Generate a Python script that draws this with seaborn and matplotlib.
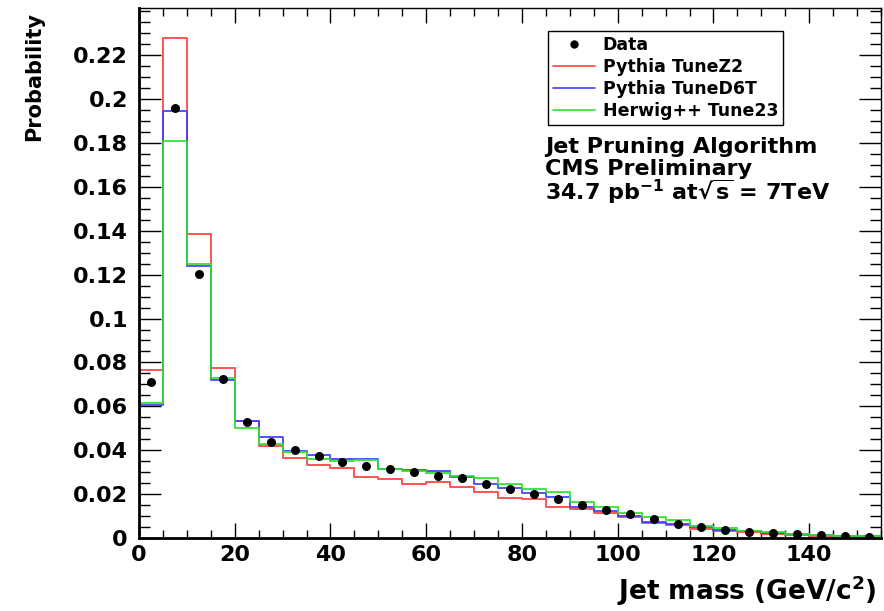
import numpy as np
import pandas as pd
import matplotlib
matplotlib.use("Agg")
import matplotlib.pyplot as plt
import seaborn as sns
from matplotlib.lines import Line2D
from matplotlib.ticker import MultipleLocator, FixedLocator, FuncFormatter

# ---- data ----
bin_edges = list(range(0, 160, 5))  # 0..155, width 5 GeV
data_vals = [0.0711, 0.1959, 0.1203, 0.0724, 0.0528, 0.0437, 0.0401, 0.0374,
             0.0346, 0.0328, 0.0314, 0.0301, 0.0282, 0.0273, 0.0246, 0.0223,
             0.0200, 0.0178, 0.0150, 0.0128, 0.0109, 0.0087, 0.0064, 0.0050,
             0.0036, 0.0027, 0.0023, 0.0018, 0.0014, 0.0009, 0.0005]
pythia_z2 = [0.0765, 0.2278, 0.1385, 0.0774, 0.0533, 0.0419, 0.0364, 0.0333,
             0.0319, 0.0278, 0.0269, 0.0246, 0.0255, 0.0232, 0.0210, 0.0182,
             0.0178, 0.0141, 0.0132, 0.0114, 0.0096, 0.0068, 0.0059, 0.0041,
             0.0032, 0.0027, 0.0018, 0.0014, 0.0011, 0.0009, 0.0007]
pythia_d6t = [0.0606, 0.1945, 0.1239, 0.0720, 0.0533, 0.0460, 0.0396, 0.0378,
              0.0360, 0.0360, 0.0314, 0.0310, 0.0305, 0.0278, 0.0246, 0.0228,
              0.0205, 0.0187, 0.0141, 0.0123, 0.0100, 0.0073, 0.0064, 0.0050,
              0.0036, 0.0032, 0.0023, 0.0018, 0.0014, 0.0011, 0.0009]
herwig_23 = [0.0615, 0.1809, 0.1248, 0.0729, 0.0501, 0.0428, 0.0392, 0.0360,
             0.0351, 0.0355, 0.0314, 0.0305, 0.0296, 0.0282, 0.0273, 0.0246,
             0.0223, 0.0210, 0.0164, 0.0141, 0.0114, 0.0096, 0.0082, 0.0055,
             0.0046, 0.0032, 0.0027, 0.0018, 0.0014, 0.0011, 0.0009]
series_labels = ["Pythia TuneZ2", "Pythia TuneD6T", "Herwig++ Tune23"]
x_ticks = [0, 20, 40, 60, 80, 100, 120, 140]
y_ticks = [0, 0.02, 0.04, 0.06, 0.08, 0.1, 0.12, 0.14, 0.16, 0.18, 0.2, 0.22]

# ---- style ----
sns.set_theme(style="ticks")
plt.rcParams["font.family"] = ["DejaVu Sans"]
plt.rcParams["font.weight"] = "bold"
plt.rcParams["mathtext.default"] = "bf"
plt.rcParams["text.color"] = "black"
plt.rcParams["axes.labelcolor"] = "black"
plt.rcParams["xtick.color"] = "black"
plt.rcParams["ytick.color"] = "black"
plt.rcParams["xtick.labelcolor"] = "black"
plt.rcParams["ytick.labelcolor"] = "black"

colors = ["#ff4040", "#4040ff", "#30e030"]

fig = plt.figure(figsize=(8.84, 6.11), dpi=100)
ax = fig.add_axes([139 / 884, 1 - 538 / 611, (881 - 139) / 884, (538 - 8) / 611])

edges = np.array(bin_edges, dtype=float)
centers = (edges[:-1] + edges[1:]) / 2
df = pd.DataFrame({"mass": centers, "data": data_vals,
                   series_labels[0]: pythia_z2,
                   series_labels[1]: pythia_d6t,
                   series_labels[2]: herwig_23})

for lab, col in zip(series_labels, colors):
    sns.histplot(data=df, x="mass", weights=lab, bins=bin_edges,
                 element="step", fill=False, color=col, linewidth=1.4,
                 alpha=0.9, ax=ax)

sns.scatterplot(data=df, x="mass", y="data", color="black", s=42,
                linewidth=0, ax=ax, zorder=5)

ax.set_xlim(0, 155)
ax.set_ylim(0, 0.2415)

ax.xaxis.set_major_locator(FixedLocator(x_ticks))
ax.xaxis.set_minor_locator(MultipleLocator(5))
ax.yaxis.set_major_locator(FixedLocator(y_ticks))
ax.yaxis.set_minor_locator(MultipleLocator(0.005))
ax.xaxis.set_major_formatter(FuncFormatter(lambda v, p: f"{v:g}"))
ax.yaxis.set_major_formatter(FuncFormatter(lambda v, p: f"{v:g}"))

ax.tick_params(axis="x", which="major", direction="in", length=10.8, width=1,
               top=True, bottom=True, labelsize=16, pad=5, color="black",
               labelcolor="black")
ax.tick_params(axis="x", which="minor", direction="in", length=5.8, width=1,
               top=True, bottom=True, color="black")
ax.tick_params(axis="y", which="major", direction="in", length=15.8, width=1,
               left=True, right=True, labelsize=16, pad=8, color="black",
               labelcolor="black")
ax.tick_params(axis="y", which="minor", direction="in", length=7.9, width=1,
               left=True, right=True, color="black")

for s in ["left", "bottom"]:
    ax.spines[s].set_linewidth(2.0)
    ax.spines[s].set_color("black")
for s in ["top", "right"]:
    ax.spines[s].set_linewidth(1.0)
    ax.spines[s].set_color("black")

ax.set_xlabel("Jet mass (GeV/c$^{2}$)", fontsize=19, fontweight="bold",
              loc="right", color="black")
ax.xaxis.set_label_coords(1 - 4 / 742, -35 / 530)
ax.set_ylabel("Probability", fontsize=15, fontweight="bold", loc="top",
              color="black")
ax.yaxis.set_label_coords(-95 / 742, 1 - 4 / 530)

handles = [Line2D([], [], marker="o", color="black", linestyle="none",
                  markersize=5)]
for col in colors:
    handles.append(Line2D([], [], color=col, linewidth=1.2))
leg = ax.legend(handles, ["Data"] + series_labels,
                loc="upper left",
                bbox_to_anchor=(548 / 884, 1 - 31 / 611),
                bbox_transform=fig.transFigure,
                prop={"size": 12.5, "weight": "bold"},
                frameon=True, fancybox=False, framealpha=1,
                edgecolor="black", borderpad=0.3, labelspacing=0.22,
                handlelength=2.4, handletextpad=0.45, borderaxespad=0)
leg.get_frame().set_linewidth(1.0)
for t in leg.get_texts():
    t.set_color("black")

fig.text(545 / 884, 1 - 153 / 611, "Jet Pruning Algorithm", fontsize=16,
         fontweight="bold", va="baseline", ha="left", color="black")
fig.text(545 / 884, 1 - 175 / 611, "CMS Preliminary", fontsize=16,
         fontweight="bold", va="baseline", ha="left", color="black")
fig.text(545 / 884, 1 - 200 / 611, r"34.7 pb$^{-1}$ at$\sqrt{s}$ = 7TeV",
         fontsize=16, fontweight="bold", va="baseline", ha="left",
         color="black")

fig.savefig("out.png", dpi=100)
